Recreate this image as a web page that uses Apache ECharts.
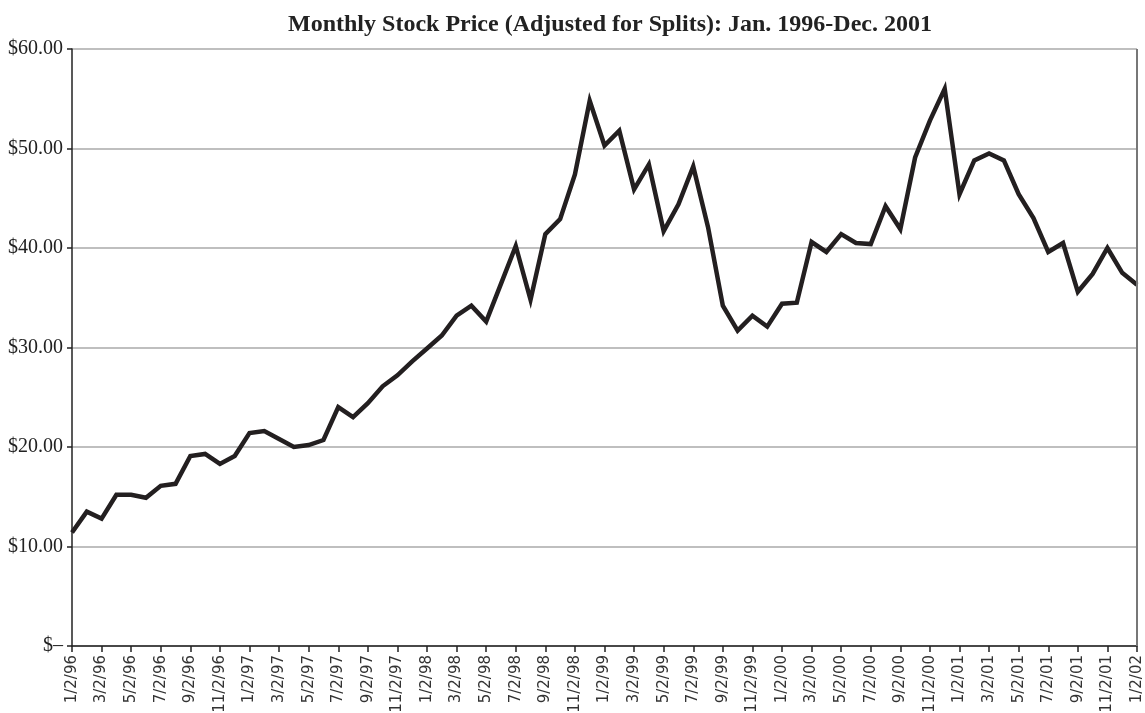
<!DOCTYPE html>
<html>
<head>
<meta charset="utf-8">
<script src="https://cdn.jsdelivr.net/npm/echarts@6/dist/echarts.min.js"></script>
<style>
  html, body { margin: 0; padding: 0; background: #fff; }
  #chart { width: 1145px; height: 713px; }
</style>
</head>
<body>
<div id="chart"></div>
<script>
// months, Jan 1996 .. Jan 2002
var months = [
  '1/2/96', '2/2/96', '3/2/96', '4/2/96', '5/2/96', '6/2/96', '7/2/96', '8/2/96', '9/2/96', '10/2/96', '11/2/96', '12/2/96',
  '1/2/97', '2/2/97', '3/2/97', '4/2/97', '5/2/97', '6/2/97', '7/2/97', '8/2/97', '9/2/97', '10/2/97', '11/2/97', '12/2/97',
  '1/2/98', '2/2/98', '3/2/98', '4/2/98', '5/2/98', '6/2/98', '7/2/98', '8/2/98', '9/2/98', '10/2/98', '11/2/98', '12/2/98',
  '1/2/99', '2/2/99', '3/2/99', '4/2/99', '5/2/99', '6/2/99', '7/2/99', '8/2/99', '9/2/99', '10/2/99', '11/2/99', '12/2/99',
  '1/2/00', '2/2/00', '3/2/00', '4/2/00', '5/2/00', '6/2/00', '7/2/00', '8/2/00', '9/2/00', '10/2/00', '11/2/00', '12/2/00',
  '1/2/01', '2/2/01', '3/2/01', '4/2/01', '5/2/01', '6/2/01', '7/2/01', '8/2/01', '9/2/01', '10/2/01', '11/2/01', '12/2/01',
  '1/2/02'
];

var prices = [
  11.4, 13.5, 12.8, 15.2, 15.2, 14.9, 16.1, 16.3, 19.1, 19.3, 18.3, 19.1,
  21.4, 21.6, 20.8, 20.0, 20.2, 20.7, 24.0, 23.0, 24.4, 26.1, 27.2, 28.6,
  29.9, 31.2, 33.2, 34.2, 32.6, 36.4, 40.2, 34.8, 41.4, 42.9, 47.4, 54.8,
  50.3, 51.8, 45.9, 48.4, 41.7, 44.4, 48.2, 42.1, 34.2, 31.7, 33.2, 32.1,
  34.4, 34.5, 40.6, 39.6, 41.4, 40.5, 40.4, 44.2, 41.9, 49.1, 52.8, 56.0,
  45.4, 48.8, 49.5, 48.8, 45.4, 43.0, 39.6, 40.5, 35.6, 37.4, 40.0, 37.5,
  36.3
];

var chart = echarts.init(document.getElementById('chart'));

var option = {
  animation: false,
  title: {
    text: 'Monthly Stock Price (Adjusted for Splits): Jan. 1996-Dec. 2001',
    left: 605,
    textAlign: 'center',
    top: 8,
    textStyle: {
      fontFamily: 'Liberation Serif',
      fontWeight: 'bold',
      fontSize: 24,
      color: '#222'
    }
  },
  grid: { left: 72, right: 8, top: 49, bottom: 67, outerBoundsMode: 'none' },
  xAxis: {
    type: 'category',
    data: months,
    boundaryGap: false,
    axisLine: { lineStyle: { color: '#222', width: 1.5 } },
    axisTick: { interval: 1, length: 6, lineStyle: { color: '#222', width: 1.5 } },
    axisLabel: {
      interval: 1,
      rotate: 90,
      margin: 9,
      fontFamily: 'DejaVu Sans',
      fontSize: 15,
      color: '#333'
    },
    splitLine: { show: false }
  },
  yAxis: {
    type: 'value',
    min: 0,
    max: 60,
    interval: 10,
    axisLine: { show: true, lineStyle: { color: '#222', width: 1.5 } },
    axisTick: { show: true, length: 5, lineStyle: { color: '#222', width: 1.5 } },
    axisLabel: {
      margin: 9,
      fontFamily: 'Liberation Serif',
      fontSize: 20,
      color: '#222',
      formatter: function (v) { return v === 0 ? '$\u2013' : '$' + v.toFixed(2); }
    },
    splitLine: { lineStyle: { color: '#aaa', width: 1.5 } }
  },
  series: [{
    name: 'Price',
    type: 'line',
    data: prices,
    showSymbol: false,
    lineStyle: { color: '#231f20', width: 4.5, join: 'miter' },
    z: 3
  }, {
    // right border of the plot area
    type: 'line',
    data: [],
    markLine: {
      silent: true,
      symbol: 'none',
      label: { show: false },
      lineStyle: { color: '#777', type: 'solid', width: 2 },
      data: [{ xAxis: months[months.length - 1] }]
    }
  }]
};

chart.setOption(option);
</script>
</body>
</html>
